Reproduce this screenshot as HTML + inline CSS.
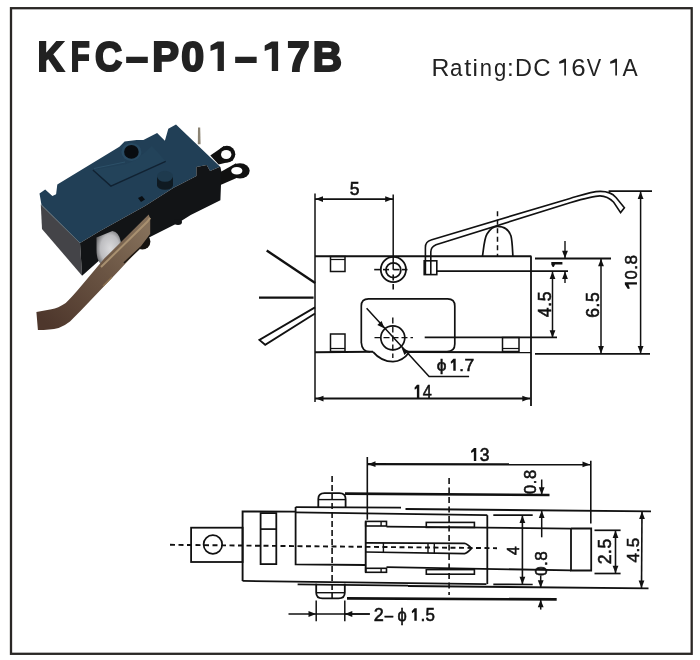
<!DOCTYPE html>
<html><head><meta charset="utf-8"><style>
html,body{margin:0;padding:0;background:#fff;}
svg{display:block;}
text{font-family:"Liberation Sans",sans-serif;}
</style></head><body>
<svg width="700" height="660" viewBox="0 0 700 660" style="will-change:transform">
<rect width="700" height="660" fill="#fff"/>
<rect x="11" y="8.2" width="680.7" height="645.6" fill="none" stroke="#2a2725" stroke-width="2.3"/>
<polygon points="39.5,193.6 45.2,189.4 52.4,196.1 56.1,194.2 57.3,184.5 119.4,146.7 124.6,141.6 136.6,139.9 143.4,139.9 157.1,133.0 164.9,140.7 168.3,128.7 176.0,124.4 220.4,167.0 219.3,167.1 210.1,171.1 206.7,164.9 196.4,167.1 196.4,176.0 173.6,187.7 145.0,206.0 100.0,231.0 80.0,243.0 41.5,205.0" fill="#213f56" />
<polygon points="40.8,204.5 80.0,243.0 82.1,275.7 42.0,229.0" fill="#444448" />
<polygon points="80.0,243.0 100.0,231.0 145.0,206.0 173.6,187.7 196.4,176.0 196.4,167.1 206.7,164.9 210.1,171.1 219.3,167.1 220.4,167.0 221.5,172.0 220.4,200.3 190.7,215.0 178.8,222.6 150.0,237.0 101.4,258.6 82.1,275.7" fill="#121416" />
<ellipse cx="131.4" cy="151.9" rx="10" ry="9" fill="#284a62"/>
<ellipse cx="131.4" cy="151.9" rx="7.3" ry="6.8" fill="#080c10"/>
<polygon points="92.9,169.9 110.9,186.1 165.7,161.3 152.0,146.0 136.0,160.0 126.0,164.0" fill="#23435a" />
<polyline points="92.9,169.9 110.9,186.1 165.7,161.3" stroke="#112232" stroke-width="1.4" fill="none" />
<polyline points="94,168.5 125,162" stroke="#2c5068" stroke-width="1" fill="none" />
<rect x="157" y="176.3" width="16" height="9" fill="#0f1a22"/>
<ellipse cx="165" cy="185.3" rx="8" ry="4.5" fill="#0f1a22"/>
<ellipse cx="165" cy="176.3" rx="8" ry="5.5" fill="#1e3a4e"/>
<polygon points="138.0,198.0 142.0,196.0 145.0,199.5 141.0,202.0" fill="#0a0e12" />
<ellipse cx="178" cy="222" rx="4" ry="3" fill="#121416"/>
<polygon points="210.3,155.6 224.0,146.0 229.0,162.0 218.6,164.5" fill="#101010" />
<circle cx="226.9" cy="154.2" r="8.4" fill="#101010"/>
<ellipse cx="226.2" cy="154.5" rx="5.2" ry="4.6" fill="#fff"/>
<polygon points="220.5,172.0 236.0,163.2 236.0,178.3 220.5,185.0" fill="#101010" />
<ellipse cx="240" cy="170.8" rx="9.7" ry="7.6" fill="#101010"/>
<ellipse cx="236.8" cy="170.8" rx="5.6" ry="3.8" fill="#fff"/>
<polygon points="198.0,127.6 200.2,127.6 200.6,144.2 197.8,144.2" fill="#8c8474" />
<circle cx="142.4" cy="241.5" r="8" fill="#15120f"/>
<defs><radialGradient id="pg" cx="0.55" cy="0.5" r="0.6"><stop offset="0" stop-color="#dadadc"/><stop offset="0.65" stop-color="#bdbdc0"/><stop offset="1" stop-color="#6a6a6c"/></radialGradient></defs>
<path d="M96.5,237.5 L112.4,231.1 Q119,232 120.9,242 L120,258 L103,266 Q96.5,262 96.5,250 Z" fill="url(#pg)"/>
<defs><linearGradient id="lg" gradientUnits="userSpaceOnUse" x1="140" y1="222" x2="45" y2="322"><stop offset="0" stop-color="#85705a"/><stop offset="0.45" stop-color="#6a5443"/><stop offset="1" stop-color="#4e372c"/></linearGradient></defs>
<path d="M148.7,214.4 L104.3,258.6 L81.4,285.7 Q72,297 65.7,302.9 Q58,308 51.4,309.3 L36.4,312.1 L37.9,330 Q50,330 58.6,327.9 Q65,325.5 70,321.4 L81.4,310 L118.6,271 L138,250 L150.2,234 L150.2,218.8 Z" stroke="none" stroke-width="0" fill="url(#lg)" />
<polyline points="150.2,217.8 147.5,221.5 101,267" stroke="#a89070" stroke-width="2" fill="none" />
<polyline points="124,263 141,247" stroke="#1e1812" stroke-width="1.6" fill="none" />
<polyline points="103,286 112,277" stroke="#8a7050" stroke-width="1.5" fill="none" />
<polyline points="41.5,205 80,243" stroke="#5a6a74" stroke-width="1" fill="none" />
<line x1="315" y1="193.5" x2="315" y2="402" stroke="#111" stroke-width="1.5" />
<line x1="393.2" y1="194.5" x2="393.2" y2="269.8" stroke="#111" stroke-width="1.5" />
<line x1="315" y1="199.1" x2="393.2" y2="199.1" stroke="#111" stroke-width="1.6" />
<polygon points="315.5,199.1 323.0,196.2 323.0,202.0" fill="#111" />
<polygon points="392.7,199.1 385.2,202.0 385.2,196.2" fill="#111" />
<line x1="315" y1="256.2" x2="531.4" y2="256.2" stroke="#111" stroke-width="2" />
<line x1="531" y1="256.2" x2="531" y2="406" stroke="#111" stroke-width="1.8" />
<line x1="409" y1="352" x2="531" y2="352.3" stroke="#111" stroke-width="2" />
<line x1="535" y1="258.5" x2="611" y2="258.5" stroke="#111" stroke-width="1.8" />
<line x1="437" y1="271.2" x2="568" y2="271.2" stroke="#111" stroke-width="1.8" />
<line x1="535" y1="353.8" x2="650" y2="353.8" stroke="#111" stroke-width="1.8" />
<rect x="330.5" y="256.5" width="14.5" height="15" fill="none" stroke="#111" stroke-width="1.5"/>
<line x1="330.5" y1="259.5" x2="345" y2="259.5" stroke="#111" stroke-width="1.2" />
<rect x="330.5" y="334" width="14.5" height="17.5" fill="none" stroke="#111" stroke-width="1.5"/>
<line x1="330.5" y1="348.5" x2="345" y2="348.5" stroke="#111" stroke-width="1.2" />
<rect x="502.5" y="337.5" width="16.5" height="14" fill="none" stroke="#111" stroke-width="1.5"/>
<line x1="502.5" y1="348.5" x2="519" y2="348.5" stroke="#111" stroke-width="1.2" />
<circle cx="393.4" cy="269.5" r="12.6" fill="none" stroke="#111" stroke-width="1.8"/>
<circle cx="393.4" cy="270.2" r="7.4" fill="none" stroke="#111" stroke-width="1.8"/>
<line x1="374.2" y1="269.6" x2="380" y2="269.6" stroke="#111" stroke-width="1.6" />
<line x1="383" y1="269.6" x2="389" y2="269.6" stroke="#111" stroke-width="1.6" />
<line x1="393.2" y1="269.6" x2="399.5" y2="269.6" stroke="#111" stroke-width="1.6" />
<line x1="402" y1="269.6" x2="407.5" y2="269.6" stroke="#111" stroke-width="1.6" />
<line x1="393.2" y1="274.5" x2="393.2" y2="280.6" stroke="#111" stroke-width="1.6" />
<line x1="393.2" y1="284" x2="393.2" y2="289.5" stroke="#111" stroke-width="1.6" />
<line x1="266.7" y1="250.5" x2="315.2" y2="283" stroke="#111" stroke-width="2.4" />
<line x1="259" y1="297.6" x2="313.6" y2="297.6" stroke="#111" stroke-width="2.4" />
<polyline points="315,307.4 259.4,340 265.2,344.8 315,313.5" stroke="#111" stroke-width="1.8" fill="none" />
<path d="M361.3,343 L361.3,306 Q361.3,298.8 368.5,298.8 L447.6,298.8 Q454.8,298.8 454.8,306 L454.8,344 Q454.8,351.5 447,351.5 L407,351.5" stroke="#111" stroke-width="1.7" fill="none" />
<path d="M361.4,343 Q361.8,351.5 370,351.8" stroke="#111" stroke-width="1.7" fill="none" />
<path d="M373,351.8 C380,360 387,361.6 393,361.6 C400,361.6 405,358 409.5,352" stroke="#111" stroke-width="1.8" fill="none" />
<line x1="315" y1="352.2" x2="373" y2="351.8" stroke="#111" stroke-width="2" />
<circle cx="392.8" cy="337.8" r="12" fill="none" stroke="#111" stroke-width="1.7"/>
<line x1="374.5" y1="337.6" x2="413" y2="337.6" stroke="#111" stroke-width="1.4" stroke-dasharray="6 3"/>
<line x1="392.8" y1="317.5" x2="392.8" y2="358" stroke="#111" stroke-width="1.4" stroke-dasharray="6 3"/>
<line x1="424.7" y1="337.4" x2="557" y2="337.4" stroke="#111" stroke-width="1.7" />
<polyline points="366.6,308.2 429.1,376.5 469.1,376.5" stroke="#111" stroke-width="1.5" fill="none" />
<polygon points="384.5,328.5 377.3,324.9 381.6,321.0" fill="#111" />
<polygon points="401.5,347.5 408.7,351.1 404.4,355.0" fill="#111" />
<line x1="315" y1="398.6" x2="530.3" y2="398.6" stroke="#111" stroke-width="2" />
<polygon points="316.0,398.6 323.5,395.7 323.5,401.5" fill="#111" />
<polygon points="529.8,398.6 522.3,401.5 522.3,395.7" fill="#111" />
<path d="M482.5,256.2 C484,245 484.5,238 487,234 C490,229 493,226.3 497.5,226.3 C504,226.3 509,230 511,236 C512.3,241 512.5,250 512.9,256.2" stroke="#111" stroke-width="1.7" fill="none" />
<line x1="497.5" y1="211.3" x2="497.5" y2="256" stroke="#111" stroke-width="1.5" stroke-dasharray="5 3.5"/>
<path d="M425.4,274.5 L425.4,247.5 Q425.4,241.5 431,240 L570,198.4 C585,194 592,191.5 600,191.4 C608,191.3 613,194 616,197.5 L624.4,207.8 L620.6,212.6 L613.7,202.3 C609,197.5 604,195.9 600,195.9 C594,195.9 588,197.5 570,202.7 L436,244.8 Q430.8,247 430.8,252 L430.8,274.5" stroke="#111" stroke-width="1.6" fill="none" />
<rect x="424.2" y="260.8" width="12.6" height="13.8" fill="none" stroke="#111" stroke-width="1.6"/>
<line x1="608.6" y1="191.1" x2="652" y2="191.1" stroke="#111" stroke-width="1.8" />
<polygon points="551.3,262.0 562.4,262.0 562.4,264.4 555.0,264.4 553.8,266.9 552.4,266.7 551.3,264.4" fill="#111" />
<line x1="565" y1="241" x2="565" y2="258.5" stroke="#111" stroke-width="1.4" />
<polygon points="565.0,258.3 562.1,250.8 567.9,250.8" fill="#111" />
<line x1="565" y1="271.5" x2="565" y2="283" stroke="#111" stroke-width="1.4" />
<polygon points="565.0,271.6 567.9,279.1 562.1,279.1" fill="#111" />
<line x1="552.5" y1="271.5" x2="552.5" y2="338" stroke="#111" stroke-width="1.5" />
<polygon points="552.5,271.6 555.4,279.1 549.6,279.1" fill="#111" />
<polygon points="552.5,337.8 549.6,330.3 555.4,330.3" fill="#111" />
<line x1="601" y1="258.8" x2="601" y2="353.6" stroke="#111" stroke-width="1.5" />
<polygon points="601.0,258.8 603.9,266.3 598.1,266.3" fill="#111" />
<polygon points="601.0,353.5 598.1,346.0 603.9,346.0" fill="#111" />
<line x1="640.6" y1="191.3" x2="640.6" y2="353.6" stroke="#111" stroke-width="1.5" />
<polygon points="640.6,191.5 643.5,199.0 637.7,199.0" fill="#111" />
<polygon points="640.6,353.5 637.7,346.0 643.5,346.0" fill="#111" />
<line x1="170" y1="544.8" x2="497" y2="548.2" stroke="#111" stroke-width="1.9" stroke-dasharray="5 3.5"/>
<rect x="191.1" y="527.7" width="51.5" height="34.3" fill="none" stroke="#111" stroke-width="1.8"/>
<circle cx="212.9" cy="544.5" r="9.3" fill="none" stroke="#111" stroke-width="1.7"/>
<polyline points="242.6,580.9 242.6,511.4 295.6,511.6" stroke="#111" stroke-width="1.9" fill="none" />
<rect x="260.6" y="513.1" width="15.7" height="51" fill="none" stroke="#111" stroke-width="1.8"/>
<line x1="260.6" y1="529.1" x2="276.3" y2="529.1" stroke="#111" stroke-width="1.7" />
<polyline points="295.6,507.1 295.6,564.4 365.7,565" stroke="#111" stroke-width="1.8" fill="none" />
<line x1="295.6" y1="507.1" x2="401" y2="507.6" stroke="#111" stroke-width="1.9" />
<line x1="405.5" y1="509" x2="651" y2="511.4" stroke="#111" stroke-width="1.8" />
<line x1="295.6" y1="512.3" x2="487.3" y2="515.2" stroke="#111" stroke-width="1.8" />
<line x1="487.3" y1="515.2" x2="487.3" y2="584.1" stroke="#111" stroke-width="1.8" />
<line x1="242.6" y1="580.9" x2="486.4" y2="584.1" stroke="#111" stroke-width="1.8" />
<line x1="297.6" y1="584.4" x2="408" y2="585.6" stroke="#111" stroke-width="1.6" />
<line x1="408" y1="586" x2="648.5" y2="588.4" stroke="#111" stroke-width="1.8" />
<path d="M318.3,507 L318.3,499 Q318.3,493.2 324.5,493.2 L339.4,493.2 Q345.6,493.2 345.6,499 L345.6,507" stroke="#111" stroke-width="1.8" fill="none" />
<line x1="318.3" y1="499.6" x2="345.6" y2="499.6" stroke="#111" stroke-width="1.4" />
<line x1="345" y1="493.6" x2="549.5" y2="495" stroke="#111" stroke-width="2.6" />
<path d="M316.2,583.8 L316.2,592.5 Q316.2,598.4 322.4,598.4 L338.6,598.4 Q344.8,598.4 344.8,592.5 L344.8,583.8" stroke="#111" stroke-width="1.8" fill="none" />
<line x1="316.2" y1="592.7" x2="344.8" y2="592.7" stroke="#111" stroke-width="1.4" />
<line x1="347" y1="598.4" x2="556.7" y2="599.4" stroke="#111" stroke-width="2.6" />
<line x1="332.1" y1="476" x2="332.1" y2="600" stroke="#111" stroke-width="1.6" stroke-dasharray="6 3"/>
<line x1="449.1" y1="478" x2="449.1" y2="595" stroke="#111" stroke-width="1.6" stroke-dasharray="6 3.5"/>
<line x1="365.7" y1="521.4" x2="365.7" y2="572.3" stroke="#111" stroke-width="1.9" />
<rect x="365.7" y="521.4" width="20.8" height="4.6" fill="none" stroke="#111" stroke-width="1.6"/>
<line x1="381.1" y1="521.4" x2="381.1" y2="526" stroke="#111" stroke-width="1.4" />
<rect x="365.7" y="568.3" width="20.8" height="4" fill="none" stroke="#111" stroke-width="1.6"/>
<line x1="381.1" y1="568.3" x2="381.1" y2="572.3" stroke="#111" stroke-width="1.4" />
<line x1="386.5" y1="526.6" x2="571" y2="528.6" stroke="#111" stroke-width="1.8" />
<line x1="386.5" y1="567.1" x2="571" y2="570.4" stroke="#111" stroke-width="1.8" />
<rect x="426.3" y="522.4" width="48.1" height="5" fill="none" stroke="#111" stroke-width="1.6"/>
<rect x="426.3" y="569.6" width="48.1" height="4.6" fill="none" stroke="#111" stroke-width="1.6"/>
<path d="M365.7,542.8 L464.5,543.3 Q467,543.5 471.5,548.4 Q467,553.4 464.5,553.6 L365.7,552" stroke="#111" stroke-width="1.7" fill="none" />
<line x1="383.4" y1="542.8" x2="383.4" y2="552" stroke="#111" stroke-width="1.4" />
<line x1="428" y1="543" x2="428" y2="553" stroke="#111" stroke-width="1.4" />
<line x1="434.3" y1="543" x2="434.3" y2="553.2" stroke="#111" stroke-width="1.4" />
<polyline points="571,528.5 591.2,528.5 591.2,570.5 571,570.5 571,528.5" stroke="#111" stroke-width="1.8" fill="none" />
<line x1="367.3" y1="457" x2="367.3" y2="519.7" stroke="#111" stroke-width="1.6" />
<line x1="590.8" y1="460.7" x2="590.8" y2="523.5" stroke="#111" stroke-width="1.6" />
<line x1="368" y1="464.2" x2="590" y2="464.4" stroke="#111" stroke-width="2.2" />
<polygon points="368.0,464.2 375.5,461.3 375.5,467.1" fill="#111" />
<polygon points="590.0,464.4 582.5,467.3 582.5,461.5" fill="#111" />
<line x1="493.3" y1="515.2" x2="532.7" y2="515.2" stroke="#111" stroke-width="1.7" />
<line x1="493.3" y1="584.3" x2="532.7" y2="584.5" stroke="#111" stroke-width="1.7" />
<line x1="522.4" y1="516" x2="522.4" y2="584" stroke="#111" stroke-width="1.6" />
<polygon points="522.4,515.5 525.3,523.0 519.5,523.0" fill="#111" />
<polygon points="522.4,584.2 519.5,576.7 525.3,576.7" fill="#111" />
<line x1="541.7" y1="479.5" x2="541.7" y2="495" stroke="#111" stroke-width="1.5" />
<polygon points="541.7,494.8 538.8,487.3 544.6,487.3" fill="#111" />
<line x1="541.7" y1="510.4" x2="541.7" y2="537.3" stroke="#111" stroke-width="1.5" />
<polygon points="541.7,510.5 544.6,518.0 538.8,518.0" fill="#111" />
<line x1="540.7" y1="575.5" x2="540.7" y2="588" stroke="#111" stroke-width="1.5" />
<polygon points="540.7,587.8 537.8,580.3 543.6,580.3" fill="#111" />
<line x1="540.7" y1="599.6" x2="540.7" y2="609.6" stroke="#111" stroke-width="1.5" />
<polygon points="540.7,599.8 543.6,607.3 537.8,607.3" fill="#111" />
<line x1="594.5" y1="530.3" x2="620.6" y2="530.3" stroke="#111" stroke-width="1.7" />
<line x1="594.5" y1="573.5" x2="620.6" y2="573.5" stroke="#111" stroke-width="1.7" />
<line x1="615.5" y1="530.5" x2="615.5" y2="573" stroke="#111" stroke-width="1.6" />
<polygon points="615.5,530.6 618.4,538.1 612.6,538.1" fill="#111" />
<polygon points="615.5,573.2 612.6,565.7 618.4,565.7" fill="#111" />
<line x1="642" y1="511.6" x2="641.5" y2="588" stroke="#111" stroke-width="1.6" />
<polygon points="642.0,511.6 644.9,519.1 639.1,519.1" fill="#111" />
<polygon points="641.5,587.9 638.6,580.4 644.4,580.4" fill="#111" />
<line x1="316.2" y1="600.6" x2="316.2" y2="621.3" stroke="#111" stroke-width="1.5" />
<line x1="344.8" y1="600.6" x2="344.8" y2="621.3" stroke="#111" stroke-width="1.5" />
<line x1="288.5" y1="614" x2="369.8" y2="614" stroke="#111" stroke-width="1.5" />
<polygon points="316.0,614.0 308.5,616.9 308.5,611.1" fill="#111" />
<line x1="344.8" y1="614" x2="369.8" y2="614" stroke="#111" stroke-width="1.5" />
<polygon points="344.8,614.0 352.3,611.1 352.3,616.9" fill="#111" />
<polygon points="210.5,45.5 217.5,41.6 223.9,41.6 223.9,70.9 217.6,70.9 217.6,48.6 210.5,51.0" fill="#222" />
<polygon points="264.7,45.5 271.7,41.6 278.1,41.6 278.1,70.9 271.8,70.9 271.8,48.6 264.7,51.0" fill="#222" />
<text transform="translate(37.44 70.94) scale(0.8656 1)" font-size="42.47" font-weight="bold" style="fill:#222;stroke:#222;stroke-width:2.2px">K</text>
<text transform="translate(70.86 70.94) scale(0.7304 1)" font-size="42.47" font-weight="bold" style="fill:#222;stroke:#222;stroke-width:2.2px">F</text>
<text transform="translate(94.92 70.94) scale(0.8837 1)" font-size="42.47" font-weight="bold" style="fill:#222;stroke:#222;stroke-width:2.2px">C</text>
<text transform="translate(126.00 70.94) scale(0.9313 1)" font-size="42.47" font-weight="bold" style="fill:#222;stroke:#222;stroke-width:2.2px">–</text>
<text transform="translate(152.20 70.94) scale(0.9434 1)" font-size="42.47" font-weight="bold" style="fill:#222;stroke:#222;stroke-width:2.2px">P</text>
<text transform="translate(181.34 70.94) scale(0.9677 1)" font-size="42.47" font-weight="bold" style="fill:#222;stroke:#222;stroke-width:2.2px">0</text>
<text transform="translate(235.00 70.94) scale(0.9241 1)" font-size="42.47" font-weight="bold" style="fill:#222;stroke:#222;stroke-width:2.2px">–</text>
<text transform="translate(287.18 70.94) scale(0.9445 1)" font-size="42.47" font-weight="bold" style="fill:#222;stroke:#222;stroke-width:2.2px">7</text>
<text transform="translate(312.86 70.94) scale(0.9536 1)" font-size="42.47" font-weight="bold" style="fill:#222;stroke:#222;stroke-width:2.2px">B</text>
<g transform="translate(0 398.05)"><polygon points="414.50,-10.30 417.00,-13.30 419.30,-13.30 419.30,0.00 416.90,0.00 416.90,-9.70 414.80,-8.30" fill="#111"/><text transform="translate(422.68 0) scale(0.882 1)" font-size="18.46" style="fill:#111;stroke:#111;stroke-width:0.55px">4</text></g>
<g transform="translate(0 461.00)"><polygon points="471.00,-10.00 473.95,-13.00 476.25,-13.00 476.25,0.00 473.85,0.00 473.85,-9.40 471.30,-8.00" fill="#111"/><text transform="translate(479.76 0) scale(0.972 1)" font-size="18.04" style="fill:#111;stroke:#111;stroke-width:0.55px">3</text></g>
<g transform="translate(0 370.75)"><text transform="translate(436.68 0) scale(1.035 1)" font-size="16.80" style="fill:#111;stroke:#111;stroke-width:0.55px">ϕ</text><polygon points="450.70,-9.10 453.40,-12.10 455.70,-12.10 455.70,0.00 453.30,0.00 453.30,-8.50 451.00,-7.10" fill="#111"/><text transform="translate(459.18 0) scale(1.000 1)" font-size="16.80" style="fill:#111;stroke:#111;stroke-width:0.55px">.</text><text transform="translate(464.58 0) scale(1.042 1)" font-size="16.80" style="fill:#111;stroke:#111;stroke-width:0.55px">7</text></g>
<g transform="translate(0 620.85)"><text transform="translate(373.78 0) scale(1.035 1)" font-size="17.49" style="fill:#111;stroke:#111;stroke-width:0.55px">2</text><text transform="translate(384.81 0) scale(0.859 1)" font-size="17.49" style="fill:#111;stroke:#111;stroke-width:0.55px">–</text><text transform="translate(397.53 0) scale(0.944 1)" font-size="17.49" style="fill:#111;stroke:#111;stroke-width:0.55px">ϕ</text><polygon points="411.75,-9.60 414.45,-12.60 416.75,-12.60 416.75,0.00 414.35,0.00 414.35,-9.00 412.05,-7.60" fill="#111"/><text transform="translate(420.50 0) scale(1.000 1)" font-size="17.49" style="fill:#111;stroke:#111;stroke-width:0.55px">.</text><text transform="translate(425.51 0) scale(0.971 1)" font-size="17.49" style="fill:#111;stroke:#111;stroke-width:0.55px">5</text></g>
<g transform="translate(0 75.60)"><text transform="translate(431.46 0) scale(1.018 1)" font-size="24.31" style="fill:#222;stroke:#222;stroke-width:0px">R</text><text transform="translate(450.08 0) scale(0.920 1)" font-size="24.31" style="fill:#222;stroke:#222;stroke-width:0px">a</text><text transform="translate(464.24 0) scale(1.040 1)" font-size="24.31" style="fill:#222;stroke:#222;stroke-width:0px">t</text><text transform="translate(472.62 0) scale(1.000 1)" font-size="24.31" style="fill:#222;stroke:#222;stroke-width:0px">i</text><text transform="translate(479.64 0) scale(0.905 1)" font-size="24.31" style="fill:#222;stroke:#222;stroke-width:0px">n</text><text transform="translate(494.09 0) scale(0.909 1)" font-size="24.31" style="fill:#222;stroke:#222;stroke-width:0px">g</text><text transform="translate(507.12 0) scale(1.000 1)" font-size="24.31" style="fill:#222;stroke:#222;stroke-width:0px">:</text><text transform="translate(515.07 0) scale(0.966 1)" font-size="24.31" style="fill:#222;stroke:#222;stroke-width:0px">D</text><text transform="translate(533.27 0) scale(0.984 1)" font-size="24.31" style="fill:#222;stroke:#222;stroke-width:0px">C</text><polygon points="559.00,-13.80 564.35,-16.80 566.00,-16.80 566.00,0.00 564.25,0.00 564.25,-13.20 559.30,-11.80" fill="#222"/><text transform="translate(571.17 0) scale(1.067 1)" font-size="24.31" style="fill:#222;stroke:#222;stroke-width:0px">6</text><text transform="translate(586.78 0) scale(0.889 1)" font-size="24.31" style="fill:#222;stroke:#222;stroke-width:0px">V</text><polygon points="610.00,-13.80 615.35,-16.80 617.00,-16.80 617.00,0.00 615.25,0.00 615.25,-13.20 610.30,-11.80" fill="#222"/><text transform="translate(622.50 0) scale(0.938 1)" font-size="24.31" style="fill:#222;stroke:#222;stroke-width:0px">A</text></g>
<g transform="translate(636.95 0) rotate(-90)"><polygon points="-288.90,-9.10 -284.50,-12.10 -282.20,-12.10 -282.20,0.00 -284.60,0.00 -284.60,-8.50 -288.60,-7.10" fill="#111"/><text transform="translate(-279.24 0) scale(0.960 1)" font-size="16.80" style="fill:#111;stroke:#111;stroke-width:0.55px">0</text><text transform="translate(-269.67 0) scale(1.000 1)" font-size="16.80" style="fill:#111;stroke:#111;stroke-width:0.55px">.</text><text transform="translate(-264.51 0) scale(1.024 1)" font-size="16.80" style="fill:#111;stroke:#111;stroke-width:0.55px">8</text></g>
<text x="349.70" y="194.86" font-size="17.54" font-weight="normal"  style="fill:#111;stroke:#111;stroke-width:0.55px;">5</text>
<text transform="translate(551.24 317.24) rotate(-90)" font-size="17.66" font-weight="normal" textLength="25.88" lengthAdjust="spacing" style="fill:#111;stroke:#111;stroke-width:0.55px;">4.5</text>
<text transform="translate(599.24 317.74) rotate(-90)" font-size="17.66" font-weight="normal" textLength="25.50" lengthAdjust="spacing" style="fill:#111;stroke:#111;stroke-width:0.55px;">6.5</text>
<text transform="translate(518.72 554.94) rotate(-90)" font-size="15.79" font-weight="normal"  style="fill:#111;stroke:#111;stroke-width:0.55px;">4</text>
<text transform="translate(535.80 493.98) rotate(-90)" font-size="16.50" font-weight="normal" textLength="24.18" lengthAdjust="spacing" style="fill:#111;stroke:#111;stroke-width:0.55px;">0.8</text>
<text transform="translate(546.56 575.92) rotate(-90)" font-size="17.15" font-weight="normal" textLength="24.68" lengthAdjust="spacing" style="fill:#111;stroke:#111;stroke-width:0.55px;">0.8</text>
<text transform="translate(610.74 564.30) rotate(-90)" font-size="17.57" font-weight="normal" textLength="25.50" lengthAdjust="spacing" style="fill:#111;stroke:#111;stroke-width:0.55px;">2.5</text>
<text transform="translate(638.68 562.56) rotate(-90)" font-size="17.20" font-weight="normal" textLength="24.76" lengthAdjust="spacing" style="fill:#111;stroke:#111;stroke-width:0.55px;">4.5</text>
</svg></body></html>
